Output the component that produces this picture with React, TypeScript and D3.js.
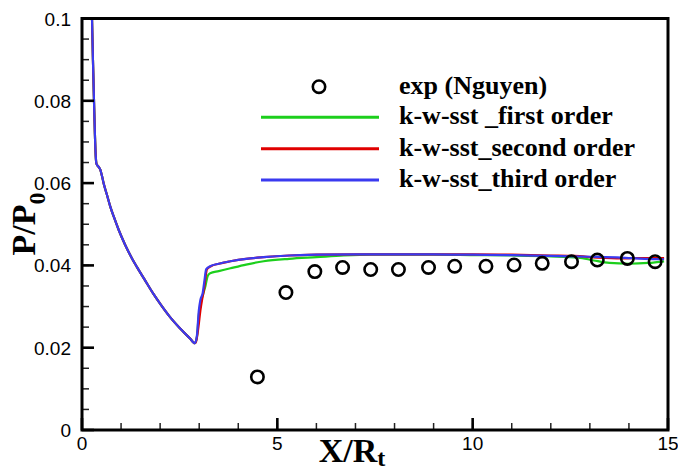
import React from "react";
import * as d3 from "d3";

const xMajorTicks = [0, 5, 10, 15];
const xTickLabels = ["0", "5", "10", "15"];
const yMajorTicks = [0, 0.02, 0.04, 0.06, 0.08, 0.1];
const yTickLabels = ["0", "0.02", "0.04", "0.06", "0.08", "0.1"];
const xMinorTicks = d3.range(0, 15.001, 1);
const yMinorTicks = d3.range(0, 0.1001, 0.005);

const expX = [4.49, 5.22, 5.96, 6.67, 7.39, 8.1, 8.87, 9.54, 10.34, 11.06, 11.78, 12.53, 13.19, 13.96, 14.67];
const expY = [0.0129, 0.0334, 0.0385, 0.0395, 0.039, 0.039, 0.0395, 0.0398, 0.0398, 0.0401, 0.0405, 0.0409, 0.0413, 0.0417, 0.0409];

// shared expansion part
const descentX = [0.24, 0.256, 0.28, 0.307, 0.33, 0.352, 0.37, 0.42, 0.468, 0.51, 0.555, 0.64, 0.724, 0.83, 0.94, 1.1, 1.28, 1.4, 1.6, 1.82, 2.03, 2.25, 2.5, 2.76, 2.89];
const descentY = [0.106, 0.1, 0.09, 0.08, 0.072, 0.0665, 0.0647, 0.064, 0.0633, 0.0618, 0.0599, 0.0571, 0.0543, 0.0514, 0.0486, 0.0451, 0.0417, 0.0397, 0.0366, 0.0332, 0.0303, 0.0275, 0.0248, 0.0223, 0.0211];

const firstX = [2.94, 2.99, 3.04, 3.1, 3.16, 3.22, 3.28, 3.5, 3.8, 4.2, 4.65, 5.3, 6.0, 6.7, 7.4, 8, 9, 10, 11, 12, 12.7, 13.1, 13.5, 14.0, 14.5, 14.9];
const firstY = [0.0225, 0.028, 0.031, 0.033, 0.035, 0.0375, 0.0381, 0.0386, 0.0393, 0.0402, 0.041, 0.0416, 0.042, 0.0424, 0.0426, 0.0426, 0.0426, 0.0425, 0.0424, 0.0422, 0.0419, 0.0412, 0.0406, 0.0404, 0.0406, 0.041];

const secondX = [2.92, 2.98, 3.03, 3.08, 3.12, 3.16, 3.2, 3.3, 3.5, 3.8, 4.2, 4.65, 5.3, 6.0, 7, 8, 9, 10, 11, 12, 12.6, 13.2, 13.8, 14.4, 14.9];
const secondY = [0.0215, 0.025, 0.029, 0.032, 0.034, 0.037, 0.0391, 0.0398, 0.0404, 0.041, 0.0416, 0.042, 0.0424, 0.0426, 0.0427, 0.0427, 0.0427, 0.0427, 0.0426, 0.0424, 0.0423, 0.0419, 0.0417, 0.0418, 0.0418];

const thirdX = [2.94, 2.99, 3.03, 3.09, 3.13, 3.18, 3.28, 3.5, 3.8, 4.2, 4.65, 5.3, 6.0, 7, 8, 9, 10, 11, 12, 13, 13.8, 14.4, 14.9];
const thirdY = [0.0228, 0.029, 0.0316, 0.0333, 0.036, 0.0391, 0.0398, 0.0404, 0.041, 0.0416, 0.042, 0.0424, 0.0426, 0.0427, 0.0427, 0.0427, 0.0426, 0.0425, 0.0423, 0.0421, 0.0419, 0.0416, 0.0415];

const seriesNames = ["k-w-sst _first order", "k-w-sst_second order", "k-w-sst_third order"];
const seriesColors = ["#1ccf1c", "#e00000", "#3a3af0"];

const W = 678;
const H = 472;
const left = 82;
const right = 668;
const top = 18.5;
const bottom = 430;

export default function App() {
  const x = d3.scaleLinear().domain([0, 15]).range([left, right]);
  const y = d3.scaleLinear().domain([0, 0.1]).range([bottom, top]);

  const build = (xs: number[], ys: number[]) =>
    descentX.map((v, i) => [v, descentY[i]] as [number, number]).concat(xs.map((v, i) => [v, ys[i]] as [number, number]));
  const series = [build(firstX, firstY), build(secondX, secondY), build(thirdX, thirdY)];
  const line = d3
    .line<[number, number]>()
    .x((d) => x(d[0]))
    .y((d) => y(d[1]))
    .curve(d3.curveMonotoneX);

  const tickFont = "'Liberation Sans', Arial, sans-serif";
  const serif = "'Liberation Serif', 'Times New Roman', serif";

  return (
    <svg width={W} height={H} style={{ display: "block", position: "absolute", left: 0, top: 0 }}>
      <rect x={0} y={0} width={W} height={H} fill="#fff" />
      <defs>
        <clipPath id="plotClip">
          <rect x={left} y={top} width={right - left} height={bottom - top} />
        </clipPath>
      </defs>

      {/* lines */}
      <g clipPath="url(#plotClip)">
        {series.map((s, i) => (
          <path key={i} d={line(s) || ""} fill="none" stroke={seriesColors[i]} strokeWidth={2.2} strokeLinejoin="round" />
        ))}
      </g>

      {/* experimental points */}
      {expX.map((v, i) => (
        <circle key={i} cx={x(v)} cy={y(expY[i])} r={6.2} fill="none" stroke="#000" strokeWidth={2.6} />
      ))}

      {/* minor ticks */}
      {xMinorTicks.map((t, i) => (
        <line key={"xm" + i} x1={x(t)} x2={x(t)} y1={bottom} y2={bottom - 7} stroke="#222" strokeWidth={1.5} />
      ))}
      {yMinorTicks.map((t, i) => (
        <line key={"ym" + i} x1={left} x2={left + 7} y1={y(t)} y2={y(t)} stroke="#222" strokeWidth={1.5} />
      ))}
      {/* major ticks */}
      {xMajorTicks.map((t, i) => (
        <line key={"xM" + i} x1={x(t)} x2={x(t)} y1={bottom} y2={bottom - 12} stroke="#000" strokeWidth={2.6} />
      ))}
      {yMajorTicks.map((t, i) => (
        <line key={"yM" + i} x1={left} x2={left + 12} y1={y(t)} y2={y(t)} stroke="#000" strokeWidth={2.6} />
      ))}

      {/* frame */}
      <rect x={left} y={top} width={right - left} height={bottom - top} fill="none" stroke="#000" strokeWidth={3} />

      {/* tick labels */}
      {xMajorTicks.map((t, i) => (
        <text key={"xl" + i} x={x(t)} y={450} textAnchor="middle" fontFamily={tickFont} fontSize={19}>
          {xTickLabels[i]}
        </text>
      ))}
      {yMajorTicks.map((t, i) => (
        <text key={"yl" + i} x={71} y={y(t) + 7} textAnchor="end" fontFamily={tickFont} fontSize={19}>
          {yTickLabels[i]}
        </text>
      ))}

      {/* axis titles */}
      <text x={352} y={462} textAnchor="middle" fontFamily={serif} fontWeight="bold" fontSize={34}>
        X/R
        <tspan fontSize={24} dy={4}>t</tspan>
      </text>
      <text transform="translate(35,224) rotate(-90)" textAnchor="middle" fontFamily={serif} fontWeight="bold" fontSize={34}>
        P/P
        <tspan fontSize={24} dy={10}>0</tspan>
      </text>

      {/* legend */}
      <circle cx={319} cy={86.7} r={6.2} fill="none" stroke="#000" strokeWidth={2.6} />
      <text x={399} y={94.3} fontFamily={serif} fontWeight="bold" fontSize={26}>exp (Nguyen)</text>
      {seriesNames.map((n, i) => {
        const ly = [117.3, 148.7, 180][i];
        const by = [124, 155.7, 187.3][i];
        return (
          <g key={"lg" + i}>
            <line x1={261} x2={379} y1={ly} y2={ly} stroke={seriesColors[i]} strokeWidth={3} />
            <text x={399} y={by} fontFamily={serif} fontWeight="bold" fontSize={26}>{n}</text>
          </g>
        );
      })}
    </svg>
  );
}
